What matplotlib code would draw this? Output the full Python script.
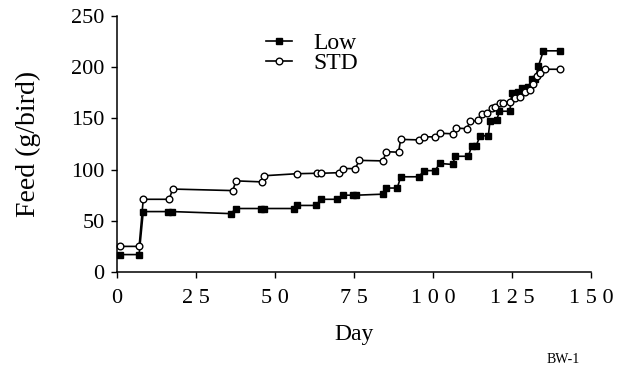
import matplotlib.pyplot as plt

plt.rcParams['font.family'] = ['Liberation Serif', 'DejaVu Serif']

# Cumulative feed per bird, low vs standard programme
low_day = [1, 7, 8.3, 16, 17.5, 36, 37.6, 45.5, 46.4, 56, 57, 63, 64.4, 69.6,
           71.4, 74.5, 75.6, 84, 85, 88.6, 89.7, 95.4, 97.1, 100.5, 102.1,
           106.1, 106.9, 111.1, 112.1, 113.5, 114.8, 117.4, 117.9, 120, 120.9,
           124.2, 124.8, 126.9, 128, 130, 131.1, 132.2, 133.2, 134.8, 140]
low_feed = [17, 17, 59, 59, 59, 57, 62, 62, 62, 62, 65, 65, 71, 71,
            75, 75, 75, 76, 82, 82, 93, 93, 99, 99, 106,
            105, 113, 113, 123, 123, 133, 133, 147, 148, 157,
            157, 175, 176, 180, 181, 188, 188, 201, 216, 216]

std_day = [1, 7, 8.3, 16.5, 17.6, 36.6, 37.6, 45.8, 46.5, 57, 63.1, 64.4,
           70.3, 71.4, 75.3, 76.6, 84.2, 85, 89, 89.7, 95.6, 97.2, 100.5, 102,
           106.1, 107.2, 110.6, 111.6, 114.2, 115.3, 116.9, 118.5, 119.5,
           121.1, 122.1, 124.2, 125.8, 127.4, 129, 130.6, 131.5, 132.7, 133.7,
           135.3, 140]
std_feed = [25, 25, 71, 71, 81, 79.5, 89, 88, 94, 96, 96.4, 96.4,
            97, 101, 101, 109, 108.5, 117.5, 117, 129.5, 129, 132, 132, 135.5,
            135, 140.5, 140, 147, 148, 154.5, 155, 160, 161.5,
            165.5, 165.5, 166.5, 169.5, 171, 176, 178, 184, 191, 194,
            198, 198]

x_ticks = [0, 25, 50, 75, 100, 125, 150]
x_labels = ['0', '2 5', '5 0', '7 5', '1 0 0', '1 2 5', '1 5 0']
y_ticks = [0, 50, 100, 150, 200, 250]

fig = plt.figure(figsize=(6.2, 3.69), dpi=100)
ax = fig.add_axes([0.1887, 0.2629, 0.7653, 0.6937])

ax.plot(low_day, low_feed, color='black', lw=1.2, marker='s', ms=3.8,
        mfc='black', mec='black', label='Low', clip_on=False)
ax.plot(std_day, std_feed, color='black', lw=1.2, marker='o', ms=4.8,
        mfc='white', mec='black', mew=1.0, label='STD', clip_on=False)

ax.set_xlim(0, 150)
ax.set_ylim(0, 250)
ax.set_xticks(x_ticks, x_labels)
ax.set_yticks(y_ticks)
ax.tick_params(axis='both', labelsize=16, length=4, width=1, color='black')
ax.tick_params(axis='x', pad=8)
ax.tick_params(axis='y', pad=5)

ax.spines['top'].set_visible(False)
ax.spines['right'].set_visible(False)
for side in ('left', 'bottom'):
    ax.spines[side].set_linewidth(1.1)

ax.set_xlabel('Day', fontsize=17, labelpad=12)
ax.set_ylabel('Feed (g/bird)', fontsize=20, labelpad=22)

ax.legend(loc='upper left', bbox_to_anchor=(0.28, 1.0), frameon=False,
          fontsize=17, handlelength=1.1, handletextpad=0.9,
          labelspacing=-0.05, borderpad=0.2)

fig.text(0.908, 0.008, 'BW-1', fontsize=10, ha='center', va='bottom')

fig.savefig('out.png', dpi=100)
